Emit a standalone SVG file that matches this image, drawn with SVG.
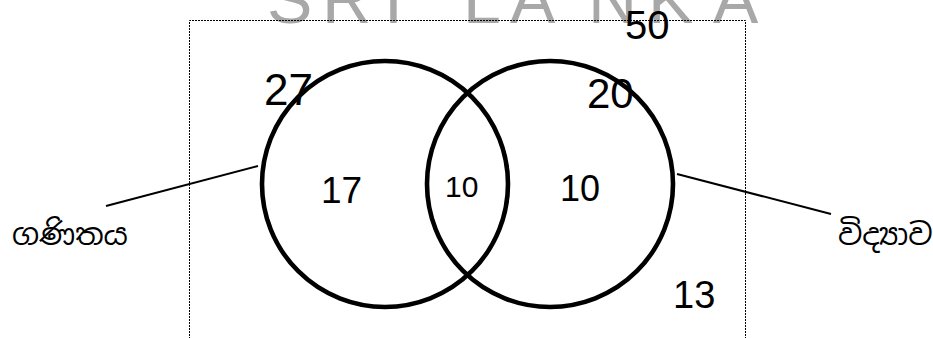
<svg xmlns="http://www.w3.org/2000/svg" width="933" height="338" viewBox="0 0 933 338">
<style>
.wm{font-family:"Liberation Sans",Arial,sans-serif;font-size:68px;fill:#a8a8a8}
.num{font-family:"Liberation Sans",Arial,sans-serif;fill:#000}
.si{font-family:"Noto Sans Sinhala","Iskoola Pota","Noto Sans",sans-serif;font-size:30px;fill:#000}
.set{fill:none;stroke:#000;stroke-width:4.6}
.lead{stroke:#000;stroke-width:2;fill:none}
.frame{fill:none;stroke:#000;stroke-width:1;stroke-dasharray:2 1}
</style>
<rect width="933" height="338" fill="#fff"/>
<text class="wm" y="23"><tspan x="267">S</tspan><tspan x="322">R</tspan><tspan x="384">I</tspan><tspan x="463">L</tspan><tspan x="510">A</tspan><tspan x="588">N</tspan><tspan x="648">K</tspan><tspan x="713">A</tspan></text>
<path id="universe" class="frame" d="M189.5 345 V20.5 H745.5 V345"/>
<text class="num" x="625" y="39" font-size="40">50</text>
<g id="maths">
<circle class="set" cx="385" cy="184" r="123"/>
<text class="num" x="264" y="105" font-size="44">27</text>
<text class="num" x="321" y="203" font-size="37">17</text>
</g>
<g id="science">
<circle class="set" cx="550" cy="184" r="123"/>
<text class="num" x="587" y="108" font-size="42">20</text>
<text class="num" x="560" y="201" font-size="36">10</text>
</g>
<g id="both">
<text class="num" x="445" y="197" font-size="30">10</text>
</g>
<g id="neither">
<text class="num" x="673" y="308" font-size="38">13</text>
</g>
<g id="connectors">
<line class="lead" x1="106" y1="206" x2="258" y2="166"/>
<line class="lead" x1="677" y1="174" x2="831" y2="214"/>
</g>
<g id="label-maths"><text class="si" x="12" y="245">ගණිතය</text></g>
<g id="label-science"><text class="si" x="838" y="245">විද්‍යාව</text></g>
</svg>
